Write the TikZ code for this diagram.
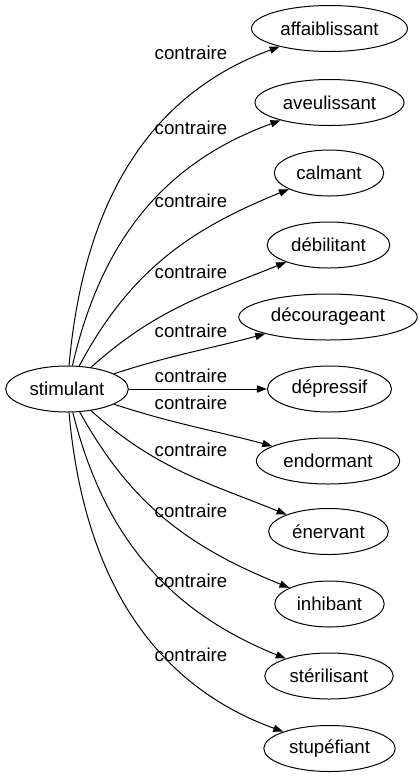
\documentclass[tikz,border=0pt]{standalone}
\usepackage{fontspec}
\setmainfont{Liberation Sans}
\usetikzlibrary{shapes.geometric,arrows.meta}
\tikzset{word/.style={ellipse,draw=black,line width=0.75pt,inner xsep=4.5pt,minimum height=34.5pt,font=\fontsize{14pt}{16pt}\selectfont},
lbl/.style={inner sep=0pt,font=\fontsize{14pt}{16pt}\selectfont}}

\begin{document}
\begin{tikzpicture}[x=0.75pt,y=-0.75pt,line width=0.75pt,
                    >={Triangle[length=7.5pt,width=5.4pt]}]
  \useasboundingbox (0,0) rectangle (419,779);

%DRAWING NODES
  \node[word] (stim) at (67,389) {stimulant};
  \node[word] (aff) at (329.5,28.5) {affaiblissant};
  \node[word] (ave) at (329.5,102.5) {aveulissant};
  \node[word] (cal) at (329,173) {calmant};
  \node[word] (deb) at (328.5,245) {débilitant};
  \node[word] (dec) at (328,317) {décourageant};
  \node[word] (dep) at (329.5,389) {dépressif};
  \node[word] (end) at (328,461) {endormant};
  \node[word] (ene) at (328.5,531.5) {énervant};
  \node[word] (inh) at (329.5,604) {inhibant};
  \node[word] (ste) at (329,676) {stérilisant};
  \node[word] (stu) at (329.5,748.5) {stupéfiant};

%DRAWING EDGES
  \draw[->] (stim) to[out=85,in=200] (aff);
  \draw[->] (stim) to[out=77,in=200] (ave);
  \draw[->] (stim) to[out=62,in=202] (cal);
  \draw[->] (stim) to[out=42,in=202] (deb);
  \draw[->] (stim) to[out=18,in=195] (dec);
  \draw[->] (stim) -- (dep);
  \draw[->] (stim) to[out=-18,in=165] (end);
  \draw[->] (stim) to[out=-42,in=158] (ene);
  \draw[->] (stim) to[out=-61,in=158] (inh);
  \draw[->] (stim) to[out=-76,in=158] (ste);
  \draw[->] (stim) to[out=-85,in=160] (stu);

%DRAWING LABELS
  \node[lbl] (l1) at (191,53) {contraire};
  \node[lbl] (l2) at (191,128) {contraire};
  \node[lbl] (l3) at (191,201) {contraire};
  \node[lbl] (l4) at (191,272) {contraire};
  \node[lbl] (l5) at (191,331) {contraire};
  \node[lbl] (l6) at (191,376) {contraire};
  \node[lbl] (l7) at (191,403) {contraire};
  \node[lbl] (l8) at (191,450) {contraire};
  \node[lbl] (l9) at (191,511) {contraire};
  \node[lbl] (l10) at (191,581) {contraire};
  \node[lbl] (l11) at (191,655) {contraire};

\end{tikzpicture}
\end{document}
